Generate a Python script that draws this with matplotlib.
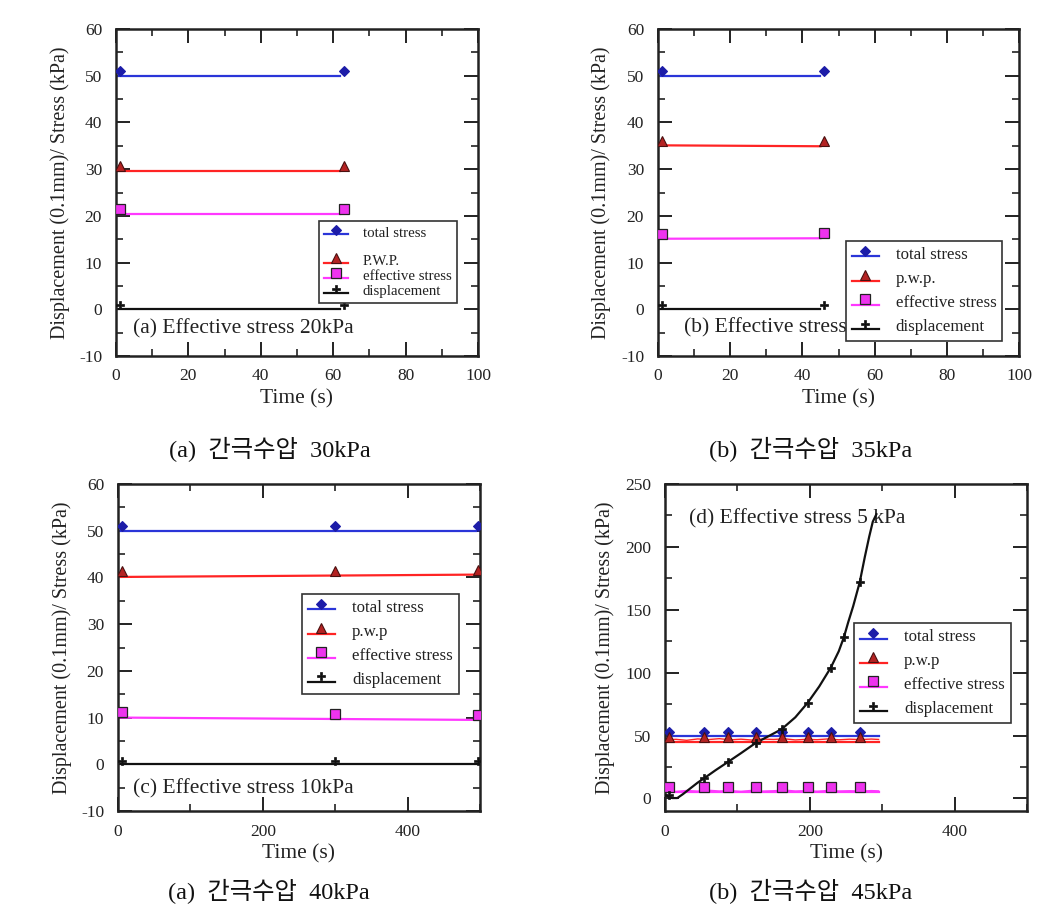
import numpy as np
import matplotlib
matplotlib.use('Agg')
import matplotlib.pyplot as plt
from matplotlib.lines import Line2D
from matplotlib.legend_handler import HandlerBase
from matplotlib.ticker import MultipleLocator

plt.rcParams['font.family'] = ['Liberation Serif', 'Noto Sans CJK KR', 'DejaVu Sans']
plt.rcParams['axes.unicode_minus'] = False

# ---------------- data ----------------
# panel (a)
a_mark_t = [1, 63]
a_total = [51.0, 51.0]
a_pwp = [30.7, 30.7]
a_eff = [21.4, 21.4]
a_disp = [0.9, 0.9]
a_line_t = [0, 62]
a_total_line = [50.0, 50.0]
a_pwp_line = [29.6, 29.6]
a_eff_line = [20.5, 20.5]
a_disp_line = [0.0, 0.0]

# panel (b)
b_mark_t = [1, 46]
b_total = [51.0, 51.0]
b_pwp = [36.0, 36.0]
b_eff = [16.1, 16.4]
b_disp = [0.9, 0.9]
b_line_t = [0, 45]
b_total_line = [50.0, 50.0]
b_pwp_line = [35.1, 34.9]
b_eff_line = [15.1, 15.2]
b_disp_line = [0.0, 0.0]

# panel (c)
c_mark_t = [5, 300, 497]
c_total = [51.1, 51.1, 51.1]
c_pwp = [41.4, 41.4, 41.6]
c_eff = [11.1, 10.8, 10.6]
c_disp = [0.8, 0.8, 0.8]
c_line_t = [0, 495]
c_total_line = [50.0, 50.0]
c_pwp_line = [40.1, 40.6]
c_eff_line = [10.0, 9.5]
c_disp_line = [0.0, 0.0]

# panel (d)
d_mark_t = [5, 54, 87, 125, 161, 197, 229, 269]
d_total = [53.2, 53.2, 53.2, 53.2, 53.2, 53.2, 53.2, 53.2]
d_pwp = [49.2, 49.2, 49.2, 49.2, 49.2, 49.2, 49.2, 49.2]
d_eff = [9.4, 9.4, 9.4, 9.4, 9.4, 9.4, 9.4, 9.4]
d_line_t = [0, 295]
d_total_line = [50.0, 50.0]
d_pwp_line = [45.2, 45.2]
d_eff_line = [5.3, 5.3]
d_raw_t = [0, 15, 30, 45, 60, 75, 90, 105, 120, 135, 150, 165, 180, 195, 210, 225, 240, 255, 270, 285, 295]
d_pwp_raw = [46.5, 47.0, 46.2, 47.3, 46.8, 47.5, 46.6, 47.1, 46.4, 47.2, 46.9, 47.4, 46.5, 47.0, 46.7, 47.3, 46.6, 47.1, 46.8, 47.2, 46.9]
d_eff_raw = [6.0, 5.5, 6.3, 5.8, 6.5, 5.9, 6.2, 5.6, 6.4, 5.8, 6.1, 6.6, 5.9, 6.2, 5.7, 6.3, 5.9, 6.1, 5.8, 6.2, 6.0]
d_disp_mark_t = [5, 54, 87, 125, 161, 197, 229, 247, 269]
d_disp_mark = [2.7, 16, 29, 44, 55, 76, 104, 128, 172]
d_disp_curve_t = [0, 5, 10, 17, 25, 35, 45, 54, 70, 87, 105, 125, 143, 161, 180, 197, 213,
                  229, 240, 247, 253, 260, 269, 276, 282, 287, 292]
d_disp_curve = [3, 1.5, 0.3, 0.3, 3.5, 8, 12.5, 16, 22.5, 29, 36, 44, 49.5, 55, 64.5, 76, 89,
                104, 117, 128, 140, 153, 172, 192, 208, 220, 226]

labels_a = ['total stress', 'P.W.P.', 'effective stress', 'displacement']
labels_b = ['total stress', 'p.w.p.', 'effective stress', 'displacement']
labels_cd = ['total stress', 'p.w.p', 'effective stress', 'displacement']
captions = ['(a)  간극수압  30kPa', '(b)  간극수압  35kPa', '(a)  간극수압  40kPa', '(b)  간극수압  45kPa']
annots = ['(a) Effective stress 20kPa', '(b) Effective stress',
          '(c) Effective stress 10kPa', '(d) Effective stress 5 kPa']
ylabel = 'Displacement (0.1mm)/ Stress (kPa)'
xlabel = 'Time (s)'

# ---------------- styles ----------------
ST = {
    'total': dict(color='#2a35d8', marker='D', mfc='#1c1ca8', mec='#1c1ca8', ms=5, mew=0.8),
    'pwp': dict(color='#ff2424', marker='^', mfc='#b42222', mec='#4a1010', ms=7.5, mew=0.8),
    'eff': dict(color='#ff38ff', marker='s', mfc='#ee33ee', mec='#222222', ms=6.5, mew=0.9),
    'disp': dict(color='#111111', marker='P', mfc='#111111', mec='#111111', ms=6, mew=0.5),
}
LW = 1.6
TXT = '#222222'


class RaisedHandler(HandlerBase):
    def create_artists(self, legend, orig_handle, xdescent, ydescent, width, height, fontsize, trans):
        yl = -ydescent + height * 0.2
        ym = -ydescent + height * 0.65
        line = Line2D([-xdescent, width - xdescent], [yl, yl], color=orig_handle.get_color(),
                      lw=orig_handle.get_linewidth())
        mk = Line2D([width / 2 - xdescent], [ym], linestyle='none', marker=orig_handle.get_marker(),
                    markersize=orig_handle.get_markersize(),
                    markerfacecolor=orig_handle.get_markerfacecolor(),
                    markeredgecolor=orig_handle.get_markeredgecolor(),
                    markeredgewidth=orig_handle.get_markeredgewidth())
        line.set_transform(trans)
        mk.set_transform(trans)
        return [line, mk]


def proxy(key):
    s = ST[key]
    return Line2D([], [], color=s['color'], lw=LW, marker=s['marker'], markersize=s['ms'],
                  markerfacecolor=s['mfc'], markeredgecolor=s['mec'], markeredgewidth=s['mew'])


def plot_series(ax, t_line, y_line, t_mark, y_mark, key):
    s = ST[key]
    ax.plot(t_line, y_line, color=s['color'], lw=LW, zorder=2)
    ax.plot(t_mark, y_mark, linestyle='none', marker=s['marker'], markersize=s['ms'],
            markerfacecolor=s['mfc'], markeredgecolor=s['mec'], markeredgewidth=s['mew'], zorder=3)


def style_axes(ax, xmaj, xmin, ymaj, ymin):
    ax.xaxis.set_major_locator(MultipleLocator(xmaj))
    ax.xaxis.set_minor_locator(MultipleLocator(xmin))
    ax.yaxis.set_major_locator(MultipleLocator(ymaj))
    ax.yaxis.set_minor_locator(MultipleLocator(ymin))
    ax.tick_params(which='both', direction='in', top=True, right=True, colors=TXT)
    ax.tick_params(which='major', length=10, width=1.4, labelsize=12.5)
    ax.tick_params(axis='x', which='major', pad=9)
    ax.tick_params(axis='y', which='major', pad=10)
    ax.tick_params(which='minor', length=5, width=1.2)
    for sp in ax.spines.values():
        sp.set_linewidth(1.8)
        sp.set_color(TXT)
    ax.set_ylabel(ylabel, fontsize=14.5, color=TXT)
    ax.set_xlabel(xlabel, fontsize=15.5, color=TXT)


def add_legend(ax, labels, anchor, fs, spacing, blank_row=False):
    handles = [proxy('total'), proxy('pwp'), proxy('eff'), proxy('disp')]
    labs = list(labels)
    if blank_row:
        handles.insert(1, Line2D([], [], color='none', marker='None'))
        labs.insert(1, ' ')
    leg = ax.legend(handles, labs, loc='upper left', bbox_to_anchor=anchor, borderaxespad=0,
                    fontsize=fs, labelspacing=spacing, handlelength=1.6, handletextpad=1.0,
                    borderpad=0.35, fancybox=False, framealpha=1, edgecolor='#333333',
                    handler_map={Line2D: RaisedHandler()})
    leg.get_frame().set_linewidth(1.2)
    leg.set_zorder(10)
    for t in leg.get_texts():
        t.set_color(TXT)
    if blank_row:
        leg.get_texts()[1].set_fontsize(3)
    return leg


fig = plt.figure(figsize=(10.5, 9.06), dpi=100)

ax_a = fig.add_axes([116 / 1050, 1 - 356 / 906, 362 / 1050, 327 / 906])
ax_b = fig.add_axes([658 / 1050, 1 - 356 / 906, 361 / 1050, 327 / 906])
ax_c = fig.add_axes([118 / 1050, 1 - 811 / 906, 362 / 1050, 327 / 906])
ax_d = fig.add_axes([665 / 1050, 1 - 811 / 906, 362 / 1050, 327 / 906])

# (a)
plot_series(ax_a, a_line_t, a_total_line, a_mark_t, a_total, 'total')
plot_series(ax_a, a_line_t, a_pwp_line, a_mark_t, a_pwp, 'pwp')
plot_series(ax_a, a_line_t, a_eff_line, a_mark_t, a_eff, 'eff')
plot_series(ax_a, a_line_t, a_disp_line, a_mark_t, a_disp, 'disp')
ax_a.set_xlim(0, 100)
ax_a.set_ylim(-10, 60)
style_axes(ax_a, 20, 10, 10, 5)
add_legend(ax_a, labels_a, (0.56, 0.413), 10.7, 0.12, blank_row=True)

# (b)
plot_series(ax_b, b_line_t, b_total_line, b_mark_t, b_total, 'total')
plot_series(ax_b, b_line_t, b_pwp_line, b_mark_t, b_pwp, 'pwp')
plot_series(ax_b, b_line_t, b_eff_line, b_mark_t, b_eff, 'eff')
plot_series(ax_b, b_line_t, b_disp_line, b_mark_t, b_disp, 'disp')
ax_b.set_xlim(0, 100)
ax_b.set_ylim(-10, 60)
style_axes(ax_b, 20, 10, 10, 5)
add_legend(ax_b, labels_b, (0.52, 0.352), 12.2, 0.48)

# (c)
plot_series(ax_c, c_line_t, c_total_line, c_mark_t, c_total, 'total')
plot_series(ax_c, c_line_t, c_pwp_line, c_mark_t, c_pwp, 'pwp')
plot_series(ax_c, c_line_t, c_eff_line, c_mark_t, c_eff, 'eff')
plot_series(ax_c, c_line_t, c_disp_line, c_mark_t, c_disp, 'disp')
ax_c.set_xlim(0, 500)
ax_c.set_ylim(-10, 60)
style_axes(ax_c, 200, 100, 10, 5)
add_legend(ax_c, labels_cd, (0.508, 0.664), 12.2, 0.48)

# (d)
ax_d.plot(d_raw_t, d_pwp_raw, color=ST['pwp']['color'], lw=1.0, zorder=2)
ax_d.plot(d_raw_t, d_eff_raw, color=ST['eff']['color'], lw=1.0, zorder=2)
plot_series(ax_d, d_line_t, d_total_line, d_mark_t, d_total, 'total')
plot_series(ax_d, d_line_t, d_pwp_line, d_mark_t, d_pwp, 'pwp')
plot_series(ax_d, d_line_t, d_eff_line, d_mark_t, d_eff, 'eff')
plot_series(ax_d, d_disp_curve_t, d_disp_curve, d_disp_mark_t, d_disp_mark, 'disp')
ax_d.set_xlim(0, 500)
ax_d.set_ylim(-10, 250)
style_axes(ax_d, 200, 100, 50, 25)
add_legend(ax_d, labels_cd, (0.522, 0.575), 12.2, 0.48)

# axis label placement
for ax, lx in [(ax_a, -0.127), (ax_b, -0.130), (ax_c, -0.127), (ax_d, -0.138)]:
    ax.yaxis.set_label_coords(lx, 0.5)
    ax.xaxis.set_label_coords(0.5, -0.102)

# in-plot annotations
ax_a.text(0.047, 0.083, annots[0], transform=ax_a.transAxes, fontsize=15.5, va='center', ha='left',
          color=TXT, zorder=1)
ax_b.text(0.072, 0.086, annots[1], transform=ax_b.transAxes, fontsize=15.5, va='center', ha='left',
          color=TXT, zorder=1)
ax_c.text(0.041, 0.067, annots[2], transform=ax_c.transAxes, fontsize=15.5, va='center', ha='left',
          color=TXT, zorder=1)
ax_d.text(0.066, 0.893, annots[3], transform=ax_d.transAxes, fontsize=15.5, va='center', ha='left',
          color=TXT, zorder=1)

# captions
cap_kw = dict(fontsize=17.5, ha='center', va='center', color='#111111')
fig.text(270 / 1050, 1 - 450 / 906, captions[0], **cap_kw)
fig.text(811 / 1050, 1 - 450 / 906, captions[1], **cap_kw)
fig.text(269 / 1050, 1 - 892 / 906, captions[2], **cap_kw)
fig.text(811 / 1050, 1 - 892 / 906, captions[3], **cap_kw)

fig.savefig('out.png', dpi=100, facecolor='white')
